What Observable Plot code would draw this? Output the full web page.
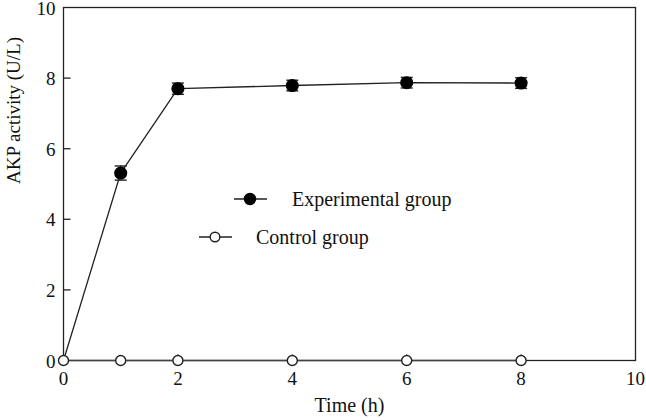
<!DOCTYPE html>
<html>
<head>
<meta charset="utf-8">
<script src="https://cdn.jsdelivr.net/npm/d3@7"></script>
<script src="https://cdn.jsdelivr.net/npm/@observablehq/plot@0.6"></script>
<style>
  html, body { margin: 0; padding: 0; background: #fff; }
  #wrap { position: relative; width: 646px; height: 420px; }
  #legend { position: absolute; left: 0; top: 0; pointer-events: none; }
</style>
</head>
<body>
<div id="wrap"></div>
<script>
// Data
const timeHours = [0, 1, 2, 4, 6, 8];
const experimental = [0, 5.31, 7.70, 7.79, 7.87, 7.86];
const experimentalErr = [0, 0.2, 0.16, 0.15, 0.15, 0.15];
const control = [0, 0, 0, 0, 0, 0];
const xTicks = [0, 2, 4, 6, 8, 10];
const yTicks = [0, 2, 4, 6, 8, 10];
const seriesNames = ["Experimental group", "Control group"];

const expData = timeHours.map((t, i) => ({t, v: experimental[i], e: experimentalErr[i]}));
const ctlData = timeHours.map((t, i) => ({t, v: control[i]}));
const expErr = expData.filter(d => d.e > 0);

const FONT = "'Liberation Serif', 'Times New Roman', serif";

// custom symbols
const rad = size => Math.sqrt(size / Math.PI);
const capSymbol = { draw(ctx, size) { const r = rad(size); ctx.moveTo(-r, 0); ctx.lineTo(r, 0); } };
const tickRight = { draw(ctx, size) { const r = rad(size); ctx.moveTo(0, 0); ctx.lineTo(r, 0); } };
const tickUp = { draw(ctx, size) { const r = rad(size); ctx.moveTo(0, 0); ctx.lineTo(0, -r); } };

const chart = Plot.plot({
  width: 646,
  height: 420,
  marginLeft: 63,
  marginRight: 11,
  marginTop: 7,
  marginBottom: 60,
  style: { fontFamily: FONT, background: "#fff", color: "#111", overflow: "visible" },
  x: { domain: [0, 10] },
  y: { domain: [0, 10] },
  marks: [
    Plot.frame({ stroke: "#222", strokeWidth: 1.3 }),
    Plot.axisX({ ticks: xTicks, tickSize: 0, tickPadding: 11, fontSize: 19, label: null, tickFormat: d => String(d) }),
    Plot.axisY({ ticks: yTicks, tickSize: 0, tickPadding: 8, dy: 1, fontSize: 19, label: null, tickFormat: d => String(d) }),
    Plot.dot(yTicks.filter(d => d > 0 && d < 10), { x: () => 0, y: d => d, symbol: tickRight, r: 7, stroke: "#222", strokeWidth: 1.3, fill: "none" }),
    Plot.dot(xTicks.filter(d => d > 0 && d < 10), { x: d => d, y: () => 0, symbol: tickUp, r: 6, stroke: "#222", strokeWidth: 1.3, fill: "none" }),
    Plot.text(["Time (h)"], { frameAnchor: "bottom", dy: 51, fontSize: 20, fill: "#111" }),
    Plot.text(["AKP activity (U/L)"], { frameAnchor: "left", dx: -50, dy: 0, rotate: -90, fontSize: 19, fill: "#111" }),
    // control
    Plot.line(ctlData, { x: "t", y: "v", stroke: "#444", strokeWidth: 1.6 }),
    // experimental
    Plot.line(expData, { x: "t", y: "v", stroke: "#222", strokeWidth: 1.3 }),
    Plot.ruleX(expErr, { x: "t", y1: d => d.v - d.e, y2: d => d.v + d.e, stroke: "#222", strokeWidth: 1.2 }),
    Plot.dot(expErr, { x: "t", y: d => d.v + d.e, symbol: capSymbol, r: 6, stroke: "#222", strokeWidth: 1.4, fill: "none" }),
    Plot.dot(expErr, { x: "t", y: d => d.v - d.e, symbol: capSymbol, r: 6, stroke: "#222", strokeWidth: 1.4, fill: "none" }),
    Plot.dot(expData.filter(d => d.t > 0), { x: "t", y: "v", r: 5.8, fill: "#000", stroke: "#000" }),
    Plot.dot(ctlData, { x: "t", y: "v", r: 5, fill: "#fff", stroke: "#222", strokeWidth: 1.4 })
  ]
});

const wrap = document.getElementById("wrap");
wrap.appendChild(chart);

// Legend overlay
const ns = "http://www.w3.org/2000/svg";
const leg = document.createElementNS(ns, "svg");
leg.setAttribute("id", "legend");
leg.setAttribute("width", 646);
leg.setAttribute("height", 420);
const items = [
  { name: seriesNames[0], x0: 234, x1: 267, cx: 250, y: 199, tx: 292, filled: true },
  { name: seriesNames[1], x0: 199, x1: 232, cx: 215, y: 237, tx: 256, filled: false }
];
for (const it of items) {
  const l = document.createElementNS(ns, "line");
  l.setAttribute("x1", it.x0); l.setAttribute("x2", it.x1);
  l.setAttribute("y1", it.y); l.setAttribute("y2", it.y);
  l.setAttribute("stroke", "#222"); l.setAttribute("stroke-width", 1.3);
  leg.appendChild(l);
  const c = document.createElementNS(ns, "circle");
  c.setAttribute("cx", it.cx); c.setAttribute("cy", it.y);
  c.setAttribute("r", it.filled ? 5.5 : 4.8);
  c.setAttribute("fill", it.filled ? "#000" : "#fff");
  c.setAttribute("stroke", it.filled ? "#000" : "#222");
  c.setAttribute("stroke-width", 1.4);
  leg.appendChild(c);
  const t = document.createElementNS(ns, "text");
  t.setAttribute("x", it.tx); t.setAttribute("y", it.y);
  t.setAttribute("dy", "0.35em");
  t.setAttribute("font-family", FONT);
  t.setAttribute("font-size", 20);
  t.setAttribute("fill", "#111");
  t.textContent = it.name;
  leg.appendChild(t);
}
wrap.appendChild(leg);
</script>
</body>
</html>
